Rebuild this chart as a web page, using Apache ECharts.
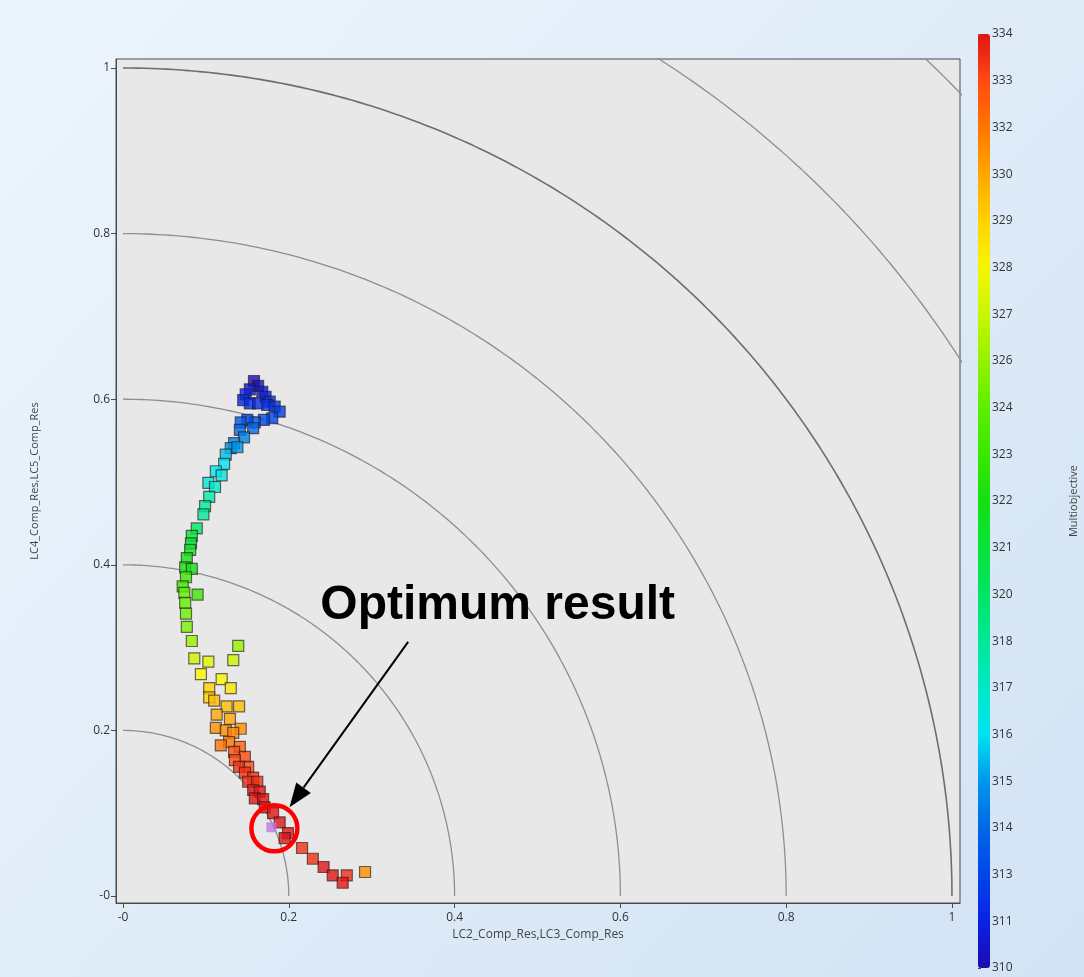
<!DOCTYPE html>
<html>
<head>
<meta charset="utf-8">
<script src="https://cdn.jsdelivr.net/npm/echarts@6/dist/echarts.min.js"></script>
<style>
html,body{margin:0;padding:0;background:#e3eef9;}
#chart{width:1084px;height:977px;}
</style>
</head>
<body>
<div id="chart"></div>
<script>
// ---- data ----
const xTicks = [0, 0.2, 0.4, 0.6, 0.8, 1];
const yTicks = [0, 0.2, 0.4, 0.6, 0.8, 1];
const radii = [0.2, 0.4, 0.6, 0.8, 1.0, 1.2, 1.4];
const cbTicks = [310, 311, 313, 314, 315, 316, 317, 318, 320, 321, 322, 323, 324, 326, 327, 328, 329, 330, 332, 333, 334];
const cbColors = ['#1a0cb0', '#0a22e6', '#0046ea', '#0068e6', '#0096ec', '#00e4f0', '#00e8c4', '#00e898', '#00e664', '#08e238', '#14e014', '#3ae800', '#5cf000', '#94f200', '#c8f600', '#f6f600', '#ffd200', '#ffa600', '#ff7600', '#ff4a10', '#e01414'];

const ptsX = [0.158,0.163,0.153,0.168,0.148,0.172,0.145,0.177,0.153,0.163,0.174,0.183,0.189,0.180,0.170,0.159,0.150,0.142,0.157,0.141,0.146,0.134,0.130,0.138,
  0.124,0.122,0.112,0.119,0.103,0.111,0.104,0.099,0.097,0.089,0.083,0.082,0.081,0.077,0.075,0.083,0.076,0.072,0.074,0.090,0.075,0.076,
  0.077,0.083,0.139,0.086,0.133,0.103,0.094,0.119,0.130,0.104,0.104,0.110,0.125,0.140,0.113,0.129,0.112,0.124,0.142,0.133,0.128,0.118,0.141,
  0.134,0.147,0.135,0.151,0.140,0.147,0.157,0.151,0.162,0.157,0.165,0.159,0.169,0.171,0.181,0.189,0.199,0.195,0.216,0.229,0.242,0.253,0.270,0.265,0.292];
const ptsY = [0.622,0.616,0.612,0.609,0.606,0.603,0.599,0.597,0.595,0.595,0.593,0.591,0.585,0.577,0.575,0.572,0.575,0.572,0.565,0.563,0.554,0.547,0.541,0.542,
  0.533,0.522,0.513,0.508,0.499,0.494,0.482,0.471,0.461,0.444,0.435,0.426,0.418,0.408,0.397,0.395,0.385,0.374,0.366,0.364,0.354,0.341,
  0.325,0.308,0.302,0.287,0.285,0.283,0.268,0.262,0.251,0.251,0.240,0.236,0.229,0.229,0.219,0.214,0.203,0.200,0.202,0.197,0.186,0.182,0.180,
  0.174,0.168,0.164,0.156,0.156,0.149,0.143,0.138,0.138,0.128,0.126,0.118,0.117,0.107,0.100,0.089,0.076,0.070,0.058,0.045,0.035,0.025,0.025,0.016,0.029];
const ptsV = [310,310.3,310.5,310.5,311,311,311.3,311.5,311.5,311.5,312,312,312.5,313,313,313.5,313,313.5,314,314,314.5,314.5,315,315,
  315.5,316,316,316.5,316.5,317,317.5,318,318,320,321,321,321.5,322,322,322,323,323,324,323,324,324.5,
  325,326,326,327,327,327.5,328,328,328.5,329,329,329.5,329.5,329.5,330,330,331,331,331,331.5,332,332,332.5,
  333,333,333,333,333.5,333.5,333.5,333.5,333.5,334,334,334,334,334,334,334,334,334,333.5,333.5,334,334,333.5,334,331];
const optimum = [0.179, 0.083];
const annotationText = 'Optimum result';
const annotationPos = [0.452, 0.350];
const arrowTail = [0.344, 0.307];

// value -> position on the colour bar (ticks are evenly spaced)
function cbPos(v) {
  for (let i = 0; i < cbTicks.length - 1; i++) {
    if (v <= cbTicks[i + 1]) return i + (v - cbTicks[i]) / (cbTicks[i + 1] - cbTicks[i]);
  }
  return cbTicks.length - 1;
}
const scatterData = ptsX.map((x, i) => [x, ptsY[i], ptsV[i], cbPos(ptsV[i])]);

function arc(r) {
  const pts = [];
  for (let a = 0; a <= 90.0001; a += 0.5) {
    const t = a * Math.PI / 180;
    pts.push([r * Math.cos(t), r * Math.sin(t)]);
  }
  return pts;
}
const fmt = v => (Math.abs(v) < 1e-9 ? '-0' : String(Number(v.toFixed(2))));

const chart = echarts.init(document.getElementById('chart'), null, {renderer: 'canvas'});
const fontFam = 'Open Sans, DejaVu Sans, sans-serif';

const circleSeries = radii.map(r => ({
  type: 'line', xAxisIndex: 0, yAxisIndex: 0, data: arc(r), symbol: 'none', silent: true, clip: true,
  lineStyle: {color: Math.abs(r - 1) < 1e-9 ? '#6e6e6e' : '#8e8e8e', width: Math.abs(r - 1) < 1e-9 ? 1.6 : 1.3},
  z: 1
}));

chart.setOption({
  animation: false,
  backgroundColor: new echarts.graphic.LinearGradient(0, 0, 1, 1, [
    {offset: 0, color: '#edf5fc'}, {offset: 1, color: '#d2e3f4'}
  ]),
  grid: [
    {left: 116, top: 59, width: 844, height: 844, show: true, backgroundColor: '#e8e8e8', borderColor: '#4a4a4a', borderWidth: 1},
    {left: 978, top: 34, width: 12, height: 934}
  ],
  xAxis: [
    {gridIndex: 0, type: 'value', min: -0.00844, max: 1.0097,
      axisLine: {show: true, onZero: false, lineStyle: {color: '#4a4a4a'}},
      axisTick: {show: true, length: 5, customValues: xTicks, lineStyle: {color: '#4a4a4a'}},
      axisLabel: {customValues: xTicks, formatter: fmt, color: '#333', fontSize: 12, fontFamily: fontFam, margin: 9},
      splitLine: {show: false},
      name: 'LC2_Comp_Res,LC3_Comp_Res', nameLocation: 'middle', nameGap: 25,
      nameTextStyle: {color: '#444', fontSize: 12, fontFamily: fontFam}},
    {gridIndex: 1, type: 'value', min: 0, max: 1, show: false}
  ],
  yAxis: [
    {gridIndex: 0, type: 'value', min: -0.00845, max: 1.0109,
      axisLine: {show: true, onZero: false, lineStyle: {color: '#4a4a4a'}},
      axisTick: {show: true, length: 5, customValues: yTicks, lineStyle: {color: '#4a4a4a'}},
      axisLabel: {customValues: yTicks, formatter: fmt, color: '#333', fontSize: 12, fontFamily: fontFam, margin: 6},
      splitLine: {show: false},
      name: 'LC4_Comp_Res,LC5_Comp_Res', nameLocation: 'middle', nameGap: 76,
      nameTextStyle: {color: '#444', fontSize: 11, fontFamily: fontFam}},
    {gridIndex: 1, type: 'value', min: 0, max: cbTicks.length - 1, interval: 1, position: 'right',
      axisLine: {show: false},
      axisTick: {show: true, length: 3, lineStyle: {color: '#444'}},
      axisLabel: {formatter: v => String(cbTicks[Math.round(v)]), color: '#333', fontSize: 12, fontFamily: fontFam, margin: 2},
      splitLine: {show: false},
      name: 'Multiobjective', nameLocation: 'middle', nameGap: 78, nameRotate: 90,
      nameTextStyle: {color: '#444', fontSize: 11, fontFamily: fontFam}}
  ],
  visualMap: {
    type: 'continuous', seriesIndex: radii.length, dimension: 3, min: 0, max: cbTicks.length - 1,
    inRange: {color: cbColors}, left: 978, top: 34, itemWidth: 12, itemHeight: 934, padding: 0,
    calculable: false, hoverLink: false, orient: 'vertical'
  },
  series: circleSeries.concat([
    {type: 'scatter', xAxisIndex: 0, yAxisIndex: 0, data: scatterData, symbol: 'rect', symbolSize: 11,
      itemStyle: {borderColor: 'rgba(35,25,25,0.8)', borderWidth: 1.2}, z: 3},
    {type: 'scatter', xAxisIndex: 0, yAxisIndex: 0, data: [optimum], symbol: 'rect', symbolSize: 10,
      itemStyle: {color: '#c078dc', borderWidth: 0}, z: 4}
  ])
});

// annotation placed from data coordinates
const op = chart.convertToPixel({gridIndex: 0}, optimum);
const tp = chart.convertToPixel({gridIndex: 0}, annotationPos);
const tail = chart.convertToPixel({gridIndex: 0}, arrowTail);
const cc = [op[0] + 3, op[1] + 1];
const R = 23;
const dx = tail[0] - cc[0], dy = tail[1] - cc[1];
const len = Math.sqrt(dx * dx + dy * dy);
const ux = dx / len, uy = dy / len;
const tip = [cc[0] + ux * (R + 3), cc[1] + uy * (R + 3)];
const headL = 24, headW = 9;
const base = [tip[0] + ux * headL, tip[1] + uy * headL];
const px = -uy, py = ux;
chart.setOption({
  graphic: [
    {type: 'text', x: tp[0], y: tp[1], z: 100,
      style: {text: annotationText, fill: '#000', font: 'bold 48px "Liberation Sans", Arial, sans-serif', align: 'center', verticalAlign: 'middle'}},
    {type: 'line', z: 100, shape: {x1: tail[0], y1: tail[1], x2: base[0], y2: base[1]},
      style: {stroke: '#000', lineWidth: 2}},
    {type: 'polygon', z: 100, shape: {points: [tip, [base[0] + px * headW, base[1] + py * headW], [base[0] - px * headW, base[1] - py * headW]]},
      style: {fill: '#000'}},
    {type: 'circle', z: 100, shape: {cx: cc[0], cy: cc[1], r: R},
      style: {fill: 'none', stroke: '#ff0000', lineWidth: 4.5}}
  ]
});
</script>
</body>
</html>
